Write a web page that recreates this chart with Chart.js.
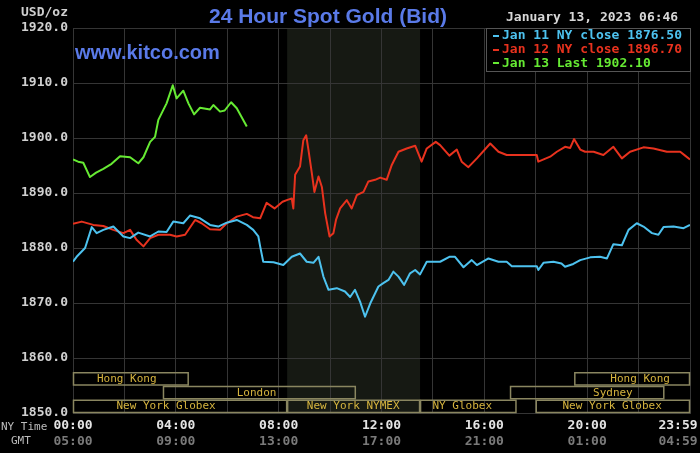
<!DOCTYPE html>
<html><head><meta charset="utf-8">
<script src="https://cdn.jsdelivr.net/npm/chart.js@4.4.0/dist/chart.umd.min.js"></script>
<style>html,body{margin:0;padding:0;background:#000;overflow:hidden}canvas{display:block}</style>
</head><body>
<canvas id="c" width="700" height="453"></canvas>
<script>
// ---- data (hours since 00:00 NY time, USD/oz) ----
const blueHours=[0,0.14,0.47,0.73,0.92,1.18,1.57,1.96,2.22,2.54,3.0,3.32,3.64,3.9,4.29,4.55,4.94,5.33,5.65,5.98,6.37,6.76,7.01,7.21,7.28,7.4,7.8,8.18,8.51,8.83,9.09,9.35,9.55,9.74,9.94,10.26,10.58,10.78,10.97,11.17,11.36,11.56,11.88,12.07,12.27,12.46,12.66,12.88,13.11,13.31,13.5,13.76,14.15,14.28,14.64,14.86,15.19,15.51,15.71,16.16,16.55,16.87,17.07,18.04,18.1,18.3,18.69,19.0,19.14,19.46,19.73,20.12,20.5,20.77,21.02,21.35,21.61,21.93,22.19,22.52,22.77,22.97,23.36,23.75,24];
const bluePrices=[1877.5,1878.4,1880.0,1883.8,1882.7,1883.3,1883.9,1882.1,1881.8,1882.8,1882.1,1883.0,1882.9,1884.8,1884.5,1885.9,1885.4,1884.2,1883.9,1884.6,1885.1,1884.2,1883.3,1882.1,1880.3,1877.5,1877.4,1876.9,1878.4,1879.0,1877.5,1877.3,1878.4,1874.8,1872.4,1872.7,1872.1,1871.1,1872.4,1870.2,1867.5,1869.9,1873.0,1873.6,1874.2,1875.7,1874.8,1873.3,1875.4,1876.0,1875.2,1877.5,1877.5,1877.5,1878.4,1878.4,1876.5,1877.8,1876.9,1878.1,1877.5,1877.5,1876.7,1876.7,1876.0,1877.3,1877.5,1877.2,1876.6,1877.1,1877.8,1878.3,1878.4,1878.1,1880.7,1880.5,1883.3,1884.5,1883.9,1882.7,1882.4,1883.8,1883.9,1883.6,1884.2];

const redHours=[0,0.34,0.79,1.18,1.57,1.96,2.22,2.47,2.74,3.0,3.32,3.77,4.03,4.36,4.75,5.0,5.33,5.72,5.98,6.37,6.76,7.0,7.28,7.53,7.84,8.15,8.37,8.51,8.57,8.64,8.83,8.96,9.07,9.16,9.29,9.39,9.55,9.68,9.81,9.98,10.13,10.23,10.39,10.65,10.84,11.04,11.3,11.49,11.75,11.95,12.2,12.4,12.66,12.98,13.31,13.56,13.76,14.11,14.28,14.64,14.93,15.12,15.38,15.71,16.23,16.55,16.87,18.04,18.1,18.56,18.82,19.14,19.34,19.49,19.73,19.92,20.25,20.63,21.02,21.35,21.67,22.19,22.58,23.1,23.62,23.81,24];
const redPrices=[1884.4,1884.8,1884.2,1884.0,1883.3,1882.7,1883.3,1881.5,1880.3,1881.8,1882.4,1882.4,1882.1,1882.4,1885.1,1884.5,1883.4,1883.3,1884.5,1885.7,1886.2,1885.6,1885.4,1888.2,1887.2,1888.4,1888.8,1889.0,1887.2,1893.3,1894.8,1899.6,1900.5,1897.8,1893.6,1890.2,1893.0,1891.1,1886.3,1882.1,1882.7,1885.1,1887.2,1888.7,1887.2,1889.6,1890.2,1892.1,1892.4,1892.8,1892.4,1895.1,1897.5,1898.1,1898.6,1895.7,1898.1,1899.3,1898.7,1896.8,1897.9,1895.7,1894.7,1896.3,1899.0,1897.5,1896.9,1896.9,1895.7,1896.6,1897.5,1898.4,1898.2,1899.8,1897.9,1897.5,1897.5,1896.9,1898.4,1896.3,1897.5,1898.3,1898.1,1897.5,1897.5,1896.8,1896.1];

const greenHours=[0,0.2,0.4,0.66,0.9,1.18,1.5,1.83,2.22,2.54,2.74,3.0,3.19,3.32,3.64,3.88,4.03,4.29,4.49,4.71,4.94,5.33,5.46,5.72,5.9,6.15,6.37,6.76];
const greenPrices=[1896.1,1895.7,1895.5,1892.9,1893.7,1894.4,1895.3,1896.7,1896.5,1895.4,1896.5,1899.3,1900.2,1903.3,1906.3,1909.6,1907.2,1908.6,1906.3,1904.3,1905.5,1905.2,1906.0,1904.8,1905.0,1906.5,1905.4,1902.1];

const seriesLabels=['Jan 11 NY close 1876.50','Jan 12 NY close 1896.70','Jan 13 Last 1902.10'];
const yMin=1850, yMax=1920, yStep=10, xStep=2;
const nyLabelHours=[0,4,8,12,16,20,24];
const nyLabels=['00:00','04:00','08:00','12:00','16:00','20:00','23:59'];
const gmtLabels=['05:00','09:00','13:00','17:00','21:00','01:00','04:59'];

const sessionNames=['Hong Kong','London','New York Globex','New York NYMEX','NY Globex','Sydney','Hong Kong','New York Globex'];
const sessionStart=[0,3.5,0,8.33,13.5,17,19.5,18];
const sessionEnd=[4.5,11,8.33,13.5,17.25,23,24,24];
const sessionRow=[0,1,2,2,2,1,0,2];
const sessionLabelAt=[2.09,7.14,3.62,10.9,15.14,21.0,22.06,20.97];
const pitOpen=8.33, pitClose=13.5;

// ---- styles ----
const COLORS=['#4dc2ef','#e8321e','#66ea33'];
const MONO='"DejaVu Sans Mono", monospace';
const pts=(h,p)=>h.map((x,i)=>({x,y:p[i]}));

const deco={
  id:'deco',
  beforeDraw(chart){
    const {ctx,chartArea:a,scales:{x}}=chart;
    ctx.save();
    ctx.fillStyle='#000';ctx.fillRect(0,0,chart.width,chart.height);
    const x0=x.getPixelForValue(pitOpen),x1=x.getPixelForValue(pitClose);
    ctx.fillStyle='#161913';ctx.fillRect(x0,a.top,x1-x0,a.bottom-a.top);
    ctx.restore();
  },
  afterDraw(chart){
    const {ctx,chartArea:a,scales:{x,y}}=chart;
    ctx.save();
    // title
    ctx.fillStyle='#5a7ae8';ctx.textBaseline='alphabetic';
    ctx.font='bold 21px "Liberation Sans", Arial, sans-serif';ctx.textAlign='center';
    ctx.fillText('24 Hour Spot Gold (Bid)',328,23);
    ctx.font='bold 20px "Liberation Sans", Arial, sans-serif';ctx.textAlign='left';
    ctx.fillText('www.kitco.com',75,59);
    // unit
    ctx.font='bold 13px '+MONO;ctx.fillStyle='#cfcfcf';ctx.textAlign='right';ctx.textBaseline='middle';
    ctx.fillText('USD/oz',68,13);
    // date
    ctx.textAlign='left';ctx.fillStyle='#d8d8d8';
    ctx.fillText('January 13, 2023 06:46',506,18);
    // legend box
    ctx.fillStyle='#000';ctx.fillRect(486,28,204,44);
    ctx.strokeStyle='#555';ctx.lineWidth=1;ctx.strokeRect(486.5,28.5,204,43);
    seriesLabels.forEach((t,i)=>{
      const yy=36+i*13.7;
      ctx.fillStyle=COLORS[i];
      ctx.fillRect(493,Math.round(yy)-1,6,2);
      ctx.fillText(t,502,yy);
    });
    // sessions
    ctx.font='11px '+MONO;
    sessionNames.forEach((n,i)=>{
      const r=sessionRow[i];
      const top=y.getPixelForValue(1850+2.5*(3-r)), bot=y.getPixelForValue(1850+2.5*(2-r));
      const x0=x.getPixelForValue(sessionStart[i]), x1=x.getPixelForValue(sessionEnd[i]);
      ctx.strokeStyle='#8a8660';ctx.lineWidth=1.5;
      ctx.strokeRect(x0+0.5,top+1,x1-x0-1,bot-top-1.5);
      ctx.fillStyle='#d6b43e';ctx.textAlign='center';ctx.textBaseline='middle';
      ctx.fillText(n,x.getPixelForValue(sessionLabelAt[i]),(top+bot)/2+0.5);
    });
    // x labels
    ctx.textBaseline='middle';
    nyLabelHours.forEach((h,i)=>{
      let px=x.getPixelForValue(h);
      px=Math.min(px,678);
      ctx.textAlign='center';
      ctx.font='bold 13px '+MONO;
      ctx.fillStyle='#e4e4e4';ctx.fillText(nyLabels[i],px,426);
      ctx.fillStyle='#7a7a7a';ctx.fillText(gmtLabels[i],px,441.5);
    });
    ctx.font='11px '+MONO;ctx.fillStyle='#bdbdbd';ctx.textAlign='left';
    ctx.fillText('NY Time',1,427);
    ctx.fillText('GMT',11,441.5);
    ctx.restore();
  }
};

new Chart(document.getElementById('c'),{
  type:'line',
  data:{datasets:[
    {label:seriesLabels[0],data:pts(blueHours,bluePrices),borderColor:COLORS[0]},
    {label:seriesLabels[1],data:pts(redHours,redPrices),borderColor:COLORS[1]},
    {label:seriesLabels[2],data:pts(greenHours,greenPrices),borderColor:COLORS[2]}
  ]},
  options:{
    responsive:false,animation:false,devicePixelRatio:1,
    layout:{padding:{top:28,bottom:40,left:0,right:10}},
    elements:{point:{radius:0},line:{borderWidth:2,tension:0,borderJoinStyle:'round'}},
    plugins:{legend:{display:false},tooltip:{enabled:false},title:{display:false}},
    scales:{
      x:{type:'linear',min:0,max:24,
        ticks:{display:false,stepSize:xStep},
        grid:{color:'#353535',drawTicks:false,lineWidth:1},
        border:{color:'#353535'},
        afterFit:s=>{s.height=0;}},
      y:{min:yMin,max:yMax,
        ticks:{stepSize:yStep,color:'#d0d0d0',padding:5,font:{family:MONO,size:13,weight:'bold'},callback:v=>v.toFixed(1)},
        grid:{color:'#353535',drawTicks:false,lineWidth:1},
        border:{color:'#353535'},
        afterFit:s=>{s.width=73;}}
    }
  },
  plugins:[deco]
});
</script>
</body></html>
